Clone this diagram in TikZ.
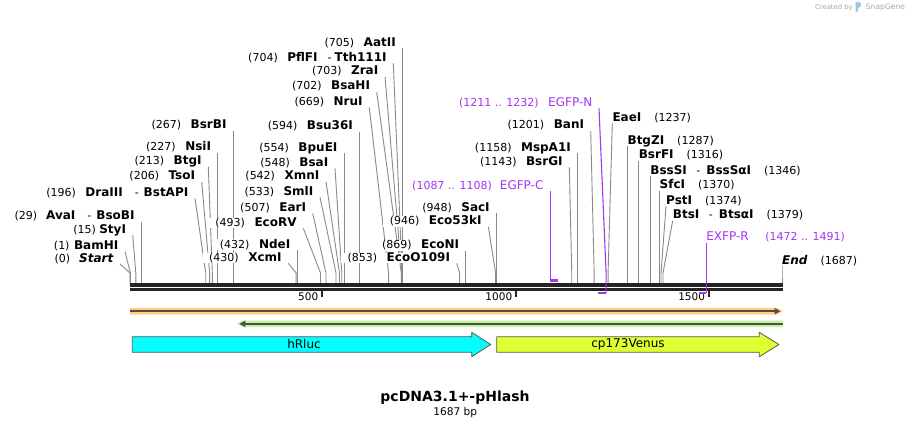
\documentclass[tikz,border=0pt]{standalone}
\usepackage{fontspec}
\setmainfont{DejaVu Sans}
\usepackage{xcolor}
\usetikzlibrary{arrows.meta}

\definecolor{cutgray}{HTML}{8A8A8A}
\definecolor{primer}{HTML}{A335F5}
\definecolor{seqdark}{HTML}{242424}
\definecolor{bandorange}{HTML}{FFCF8B}
\definecolor{bandgreen}{HTML}{C6F0A0}
\definecolor{orangedark}{HTML}{5A4A3C}
\definecolor{greendark}{HTML}{4A5442}
\definecolor{featedge}{HTML}{5A5A5A}
\definecolor{rluc}{HTML}{00FFFF}
\definecolor{venus}{HTML}{E0FF30}
\definecolor{logogray}{HTML}{A8A8A8}
\definecolor{logoblue}{HTML}{9CC6E6}

\pgfdeclarelayer{lines}
\pgfsetlayers{lines,main}

\newcommand{\sitepos}[1]{{\fontsize{11}{13}\selectfont(#1)}}
\newcommand{\enzname}[1]{{\fontsize{12}{14}\selectfont\bfseries #1}}
\newcommand{\primername}[1]{{\fontsize{12}{14}\selectfont #1}}

\begin{document}
\begin{tikzpicture}[x=1pt,y=-1pt,line join=round,font=\fontsize{11}{13}\selectfont,
    cutline/.style={draw=cutgray,line width=0.9pt},
    ltag/.style={anchor=south east,fill=white,inner xsep=6.5pt,inner ysep=0pt,text height=9pt,text depth=1.6pt},
    rtag/.style={anchor=south west,fill=white,inner xsep=0pt,inner ysep=0pt,text height=9pt,text depth=1.6pt},
    primerline/.style={draw=primer,line width=1.1pt},
    primerbar/.style={draw=primer,line width=2.3pt},
    tickmark/.style={draw=seqdark,line width=2pt},
    ticklabel/.style={anchor=east,inner sep=0pt,text height=7.6pt,text depth=0pt,font=\fontsize{10.5}{12}\selectfont},
    featline/.style={line width=2.2pt},
    featarrow/.style={draw=featedge,line width=0.8pt},
    featlabel/.style={inner sep=0pt,font=\fontsize{12}{14}\selectfont}]
  \begin{pgfonlayer}{lines}
    \path[use as bounding box,fill=white] (0,0) rectangle (912,429);
  \end{pgfonlayer}

  % cut sites on the sequence line
  \coordinate (knee) at (0,273);
  \coordinate (sStart) at (130,284);     \coordinate (sBamHI) at (130.39,284);
  \coordinate (sStyI) at (135.80,284);   \coordinate (sAvaI) at (141.21,284);
  \coordinate (sDraIII) at (205.75,284); \coordinate (sTsoI) at (209.61,284);
  \coordinate (sBtgI) at (212.32,284);   \coordinate (sNsiI) at (217.73,284);
  \coordinate (sBsrBI) at (233.19,284);  \coordinate (sXcmI) at (296.19,284);
  \coordinate (sNdeI) at (296.96,284);   \coordinate (sEcoRV) at (320.53,284);
  \coordinate (sEarI) at (325.95,284);   \coordinate (sSmlI) at (336.00,284);
  \coordinate (sXmnI) at (339.47,284);   \coordinate (sBsaI) at (341.79,284);
  \coordinate (sBpuEI) at (344.11,284);  \coordinate (sBsuI) at (359.57,284);
  \coordinate (sNruI) at (388.55,284);   \coordinate (sBsaHI) at (401.31,284);
  \coordinate (sZraI) at (401.70,284);   \coordinate (sPflFI) at (402.08,284);
  \coordinate (sAatII) at (402.47,284);  \coordinate (sEcoOI) at (459.67,284);
  \coordinate (sEcoNI) at (465.85,284);  \coordinate (sEcoKI) at (495.61,284);
  \coordinate (sSacI) at (496.38,284);   \coordinate (sBsrGI) at (571.75,284);
  \coordinate (sMspAI) at (577.54,284);  \coordinate (sBanI) at (594.16,284);
  \coordinate (sEaeI) at (608.08,284);   \coordinate (sBtgZI) at (627.40,284);
  \coordinate (sBsrFI) at (638.61,284);  \coordinate (sBssSI) at (650.20,284);
  \coordinate (sSfcI) at (659.48,284);   \coordinate (sPstI) at (661.03,284);
  \coordinate (sBtsI) at (662.96,284);   \coordinate (sEnd) at (781.99,284);

  % enzyme labels, left of their lines
  \node[ltag] (tStart) at (120,264) {\sitepos{0}\hspace{9pt}\enzname{\itshape Start}};
  \node[ltag] (tBamHI) at (125,251.5) {\sitepos{1}\hspace{4.5pt}\enzname{BamHI}};
  \node[ltag] (tStyI) at (132.7,235) {\sitepos{15}\hspace{3.5pt}\enzname{StyI}};
  \node[ltag] (tAvaI) at (141.21,221.5) {\sitepos{29}\hspace{9pt}\enzname{AvaI}\hspace{12pt}-\hspace{5pt}\enzname{BsoBI}};
  \node[ltag] (tDraIII) at (195,198.3) {\sitepos{196}\hspace{9.5pt}\enzname{DraIII}\hspace{12pt}-\hspace{5pt}\enzname{BstAPI}};
  \node[ltag] (tTsoI) at (201.7,181.7) {\sitepos{206}\hspace{9.5pt}\enzname{TsoI}};
  \node[ltag] (tBtgI) at (208.3,166.7) {\sitepos{213}\hspace{9.5pt}\enzname{BtgI}};
  \node[ltag] (tNsiI) at (217.73,152.7) {\sitepos{227}\hspace{9.5pt}\enzname{NsiI}};
  \node[ltag] (tBsrBI) at (233.19,130.7) {\sitepos{267}\hspace{9.5pt}\enzname{BsrBI}};
  \node[ltag] (tXcmI) at (288.3,263.3) {\sitepos{430}\hspace{9.5pt}\enzname{XcmI}};
  \node[ltag] (tNdeI) at (296.96,250) {\sitepos{432}\hspace{9.5pt}\enzname{NdeI}};
  \node[ltag] (tEcoRV) at (303.3,228.3) {\sitepos{493}\hspace{9.5pt}\enzname{EcoRV}};
  \node[ltag] (tEarI) at (312.7,213.3) {\sitepos{507}\hspace{9.5pt}\enzname{EarI}};
  \node[ltag] (tSmlI) at (320,197.3) {\sitepos{533}\hspace{9.5pt}\enzname{SmlI}};
  \node[ltag] (tXmnI) at (326,181.7) {\sitepos{542}\hspace{9.5pt}\enzname{XmnI}};
  \node[ltag] (tBsaI) at (335,168.3) {\sitepos{548}\hspace{9.5pt}\enzname{BsaI}};
  \node[ltag] (tBpuEI) at (344.11,153.3) {\sitepos{554}\hspace{9.5pt}\enzname{BpuEI}};
  \node[ltag] (tBsuI) at (359.57,131.7) {\sitepos{594}\hspace{9.5pt}\enzname{Bsu36I}};
  \node[ltag] (tNruI) at (369.3,107.3) {\sitepos{669}\hspace{9.5pt}\enzname{NruI}};
  \node[ltag] (tBsaHI) at (376.7,91.7) {\sitepos{702}\hspace{9.5pt}\enzname{BsaHI}};
  \node[ltag] (tZraI) at (385,76.7) {\sitepos{703}\hspace{9.5pt}\enzname{ZraI}};
  \node[ltag] (tPflFI) at (393.3,63.3) {\sitepos{704}\hspace{9.5pt}\enzname{PflFI}\hspace{10pt}-\hspace{3pt}\enzname{Tth111I}};
  \node[ltag] (tAatII) at (402.47,48.3) {\sitepos{705}\hspace{9.5pt}\enzname{AatII}};
  \node[ltag] (tEcoOI) at (456.7,263.3) {\sitepos{853}\hspace{9.5pt}\enzname{EcoO109I}};
  \node[ltag] (tEcoNI) at (465.85,250.7) {\sitepos{869}\hspace{9.5pt}\enzname{EcoNI}};
  \node[ltag] (tEcoKI) at (488.3,226.7) {\sitepos{946}\hspace{9.5pt}\enzname{Eco53kI}};
  \node[ltag] (tSacI) at (496.38,213.3) {\sitepos{948}\hspace{9.5pt}\enzname{SacI}};
  \node[ltag] (tBsrGI) at (569.3,167.3) {\sitepos{1143}\hspace{9.5pt}\enzname{BsrGI}};
  \node[ltag] (tMspAI) at (577.54,153.3) {\sitepos{1158}\hspace{9.5pt}\enzname{MspA1I}};
  \node[ltag] (tBanI) at (590.7,130.7) {\sitepos{1201}\hspace{9.5pt}\enzname{BanI}};

  % enzyme labels, right of their lines
  \node[rtag] (tEaeI) at (612.3,123.3) {\enzname{EaeI}\hspace{13pt}\sitepos{1237}};
  \node[rtag] (tBtgZI) at (627.40,146) {\enzname{BtgZI}\hspace{13pt}\sitepos{1287}};
  \node[rtag] (tBsrFI) at (638.61,160.7) {\enzname{BsrFI}\hspace{13pt}\sitepos{1316}};
  \node[rtag] (tBssSI) at (650.20,176) {\enzname{BssSI}\hspace{9.5pt}-\hspace{6pt}\enzname{BssSαI}\hspace{13pt}\sitepos{1346}};
  \node[rtag] (tSfcI) at (659.48,190.7) {\enzname{SfcI}\hspace{13pt}\sitepos{1370}};
  \node[rtag] (tPstI) at (666,206) {\enzname{PstI}\hspace{13pt}\sitepos{1374}};
  \node[rtag] (tBtsI) at (672.7,220.7) {\enzname{BtsI}\hspace{9.5pt}-\hspace{6pt}\enzname{BtsαI}\hspace{13pt}\sitepos{1379}};
  \node[rtag] (tEnd) at (781.99,266) {\enzname{\itshape End}\hspace{13pt}\sitepos{1687}};

  % cut lines, kept behind the labels
  \begin{pgfonlayer}{lines}
    \foreach \e in {Start,BamHI,StyI,AvaI,DraIII,TsoI,BtgI,NsiI,BsrBI,XcmI,NdeI,EcoRV,EarI,SmlI,XmnI,BsaI,BpuEI,BsuI,NruI,BsaHI,ZraI,PflFI,AatII,EcoOI,EcoNI,EcoKI,SacI,BsrGI,MspAI,BanI}
      \draw[cutline] (t\e.south east) -- (s\e |- knee) -- (s\e);
    \foreach \e in {EaeI,BtgZI,BsrFI,BssSI,SfcI,PstI,BtsI,End}
      \draw[cutline] (t\e.south west) -- (s\e |- knee) -- (s\e);
  \end{pgfonlayer}

  % sequence line
  \draw[seqdark,line width=3.3pt] (130,285) -- (782.7,285);
  \draw[seqdark,line width=2.6pt] (130,289.6) -- (782.7,289.6);

  % ruler
  \coordinate (k500) at (322,290.5);
  \coordinate (k1000) at (516,290.5);
  \coordinate (k1500) at (709.2,290.5);
  \draw[tickmark] (k500) -- ++(0,6.8);
  \draw[tickmark] (k1000) -- ++(0,6.8);
  \draw[tickmark] (k1500) -- ++(0,6.8);
  \node[ticklabel] (n500) at (318.4,296.8) {500};
  \node[ticklabel] (n1000) at (512.4,296.8) {1000};
  \node[ticklabel] (n1500) at (705.2,296.8) {1500};

  % primers
  \coordinate (pC0) at (550.1,280.5);
  \coordinate (pC1) at (558.2,280.5);
  \coordinate (pN0) at (598.0,292.8);
  \coordinate (pN1) at (606.1,292.8);
  \coordinate (pR0) at (698.9,292.8);
  \coordinate (pR1) at (706.2,292.8);
  \node[ltag,text=primer] (tEGFPC) at (550.1,191) {\sitepos{1087 .. 1108}\hspace{8pt}\primername{EGFP-C}};
  \node[ltag,text=primer] (tEGFPN) at (599,108.3) {\sitepos{1211 .. 1232}\hspace{9.5pt}\primername{EGFP-N}};
  \node[rtag,text=primer] (tEXFPR) at (706.2,242.7) {\primername{EXFP-R}\hspace{16.5pt}\sitepos{1472 .. 1491}};
  \draw[primerline] (tEGFPC.south east) -- (pC0);
  \draw[primerbar] (pC0) -- (pC1);
  \draw[primerline] (tEGFPN.south east) -- (pN1 |- knee) -- (pN1);
  \draw[primerbar] (pN0) -- (pN1);
  \draw[primerline] (tEXFPR.south west) -- (pR1);
  \draw[primerbar] (pR0) -- (pR1);

  % features
  \fill[bandorange] (130,307.8) -- (777.5,307.8) -- (783,311.2) -- (777.5,314.5) -- (130,314.5) -- cycle;
  \draw[featline,orangedark,-{Triangle[length=6pt,width=6pt]}] (130,311.2) -- (780.5,311.2);
  \fill[bandgreen] (782.7,320.5) -- (242.5,320.5) -- (236.7,323.8) -- (242.5,327) -- (782.7,327) -- cycle;
  \draw[featline,greendark,-{Triangle[length=6pt,width=6pt]}] (782.7,323.8) -- (239.3,323.8);

  \draw[featarrow,fill=rluc] (132.3,336.7) -- (471.7,336.7) -- (471.7,332.3) -- (490.7,344.5)
    -- (471.7,356.7) -- (471.7,352.3) -- (132.3,352.3) -- cycle;
  \node[featlabel] (lRluc) at (304,344.5) {hRluc};
  \draw[featarrow,fill=venus] (496.7,336.7) -- (759.3,336.7) -- (759.3,332.3) -- (779,344.5)
    -- (759.3,356.7) -- (759.3,352.3) -- (496.7,352.3) -- cycle;
  \node[featlabel] (lVenus) at (628,344.5) {cp173Venus};

  % title
  \node[inner sep=0pt,font=\fontsize{14}{16}\selectfont\bfseries] (title) at (455,398) {pcDNA3.1+-pHlash};
  \node[inner sep=0pt,font=\fontsize{10.6}{12}\selectfont] (length) at (455.3,413) {1687 bp};

  % credit
  \node[anchor=west,inner sep=0pt,text=logogray,font=\fontsize{6.8}{8}\selectfont] (credit) at (815,7.3) {Created by};
  \fill[logoblue] (855.5,1.8) -- (855.5,12.5) -- (858,11) -- (858,8) .. controls (862,7.5) and (862,1.8) .. (858,1.8) -- cycle;
  \node[anchor=west,inner sep=0pt,text=logogray,font=\fontsize{7.6}{9}\selectfont] (brand) at (865.7,7.3) {SnapGene};
\end{tikzpicture}
\end{document}
